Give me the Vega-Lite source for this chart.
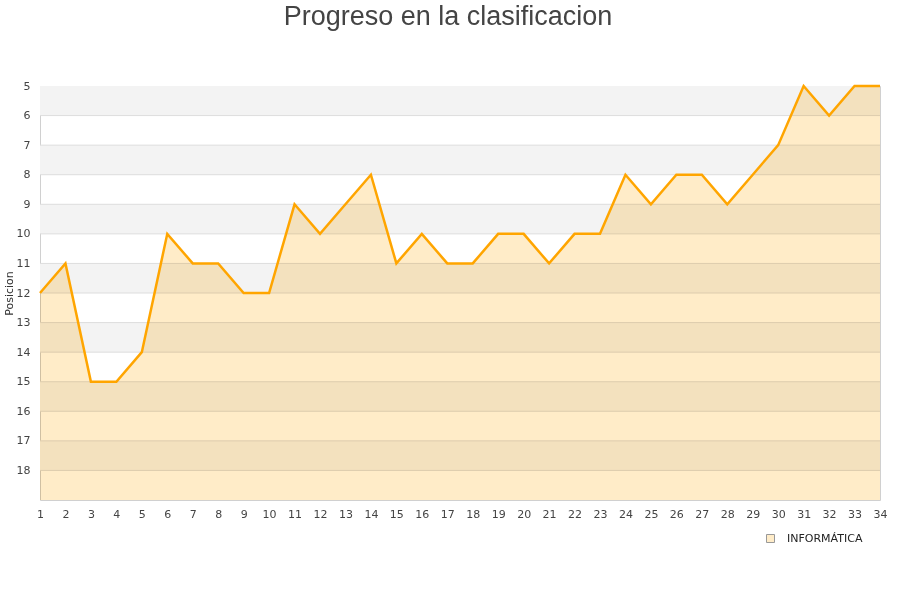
{
  "$schema": "https://vega.github.io/schema/vega-lite/v6.json",
  "autosize": {"type": "none"},
  "width": 840,
  "height": 414,
  "padding": {"left": 40, "top": 86, "right": 20, "bottom": 100},
  "background": "white",
  "title": {
    "text": "Progreso en la clasificacion",
    "font": "Liberation Sans",
    "fontSize": 27,
    "fontWeight": "normal",
    "color": "#444444",
    "anchor": "middle",
    "dx": -12,
    "offset": 49
  },
  "config": {
    "view": {"stroke": "#d0d0d0", "strokeWidth": 1},
    "axis": {
      "labelFont": "DejaVu Sans",
      "labelFontSize": 11,
      "labelColor": "#444444",
      "titleFont": "DejaVu Sans",
      "titleFontSize": 11,
      "titleFontWeight": "normal",
      "titleColor": "#333333",
      "domain": false,
      "grid": false,
      "ticks": false,
      "labelOverlap": false
    }
  },
  "datasets": {
    "bands": [
      {"desde": 5, "hasta": 6},
      {"desde": 7, "hasta": 8},
      {"desde": 9, "hasta": 10},
      {"desde": 11, "hasta": 12},
      {"desde": 13, "hasta": 14},
      {"desde": 15, "hasta": 16},
      {"desde": 17, "hasta": 18}
    ],
    "grid": [
      {"p": 6}, {"p": 7}, {"p": 8}, {"p": 9}, {"p": 10}, {"p": 11}, {"p": 12},
      {"p": 13}, {"p": 14}, {"p": 15}, {"p": 16}, {"p": 17}, {"p": 18}
    ],
    "prog": [
      {"jornada": 1, "posicion": 12, "equipo": "INFORMÁTICA"},
      {"jornada": 2, "posicion": 11, "equipo": "INFORMÁTICA"},
      {"jornada": 3, "posicion": 15, "equipo": "INFORMÁTICA"},
      {"jornada": 4, "posicion": 15, "equipo": "INFORMÁTICA"},
      {"jornada": 5, "posicion": 14, "equipo": "INFORMÁTICA"},
      {"jornada": 6, "posicion": 10, "equipo": "INFORMÁTICA"},
      {"jornada": 7, "posicion": 11, "equipo": "INFORMÁTICA"},
      {"jornada": 8, "posicion": 11, "equipo": "INFORMÁTICA"},
      {"jornada": 9, "posicion": 12, "equipo": "INFORMÁTICA"},
      {"jornada": 10, "posicion": 12, "equipo": "INFORMÁTICA"},
      {"jornada": 11, "posicion": 9, "equipo": "INFORMÁTICA"},
      {"jornada": 12, "posicion": 10, "equipo": "INFORMÁTICA"},
      {"jornada": 13, "posicion": 9, "equipo": "INFORMÁTICA"},
      {"jornada": 14, "posicion": 8, "equipo": "INFORMÁTICA"},
      {"jornada": 15, "posicion": 11, "equipo": "INFORMÁTICA"},
      {"jornada": 16, "posicion": 10, "equipo": "INFORMÁTICA"},
      {"jornada": 17, "posicion": 11, "equipo": "INFORMÁTICA"},
      {"jornada": 18, "posicion": 11, "equipo": "INFORMÁTICA"},
      {"jornada": 19, "posicion": 10, "equipo": "INFORMÁTICA"},
      {"jornada": 20, "posicion": 10, "equipo": "INFORMÁTICA"},
      {"jornada": 21, "posicion": 11, "equipo": "INFORMÁTICA"},
      {"jornada": 22, "posicion": 10, "equipo": "INFORMÁTICA"},
      {"jornada": 23, "posicion": 10, "equipo": "INFORMÁTICA"},
      {"jornada": 24, "posicion": 8, "equipo": "INFORMÁTICA"},
      {"jornada": 25, "posicion": 9, "equipo": "INFORMÁTICA"},
      {"jornada": 26, "posicion": 8, "equipo": "INFORMÁTICA"},
      {"jornada": 27, "posicion": 8, "equipo": "INFORMÁTICA"},
      {"jornada": 28, "posicion": 9, "equipo": "INFORMÁTICA"},
      {"jornada": 29, "posicion": 8, "equipo": "INFORMÁTICA"},
      {"jornada": 30, "posicion": 7, "equipo": "INFORMÁTICA"},
      {"jornada": 31, "posicion": 5, "equipo": "INFORMÁTICA"},
      {"jornada": 32, "posicion": 6, "equipo": "INFORMÁTICA"},
      {"jornada": 33, "posicion": 5, "equipo": "INFORMÁTICA"},
      {"jornada": 34, "posicion": 5, "equipo": "INFORMÁTICA"}
    ]
  },
  "layer": [
    {
      "data": {"name": "bands"},
      "mark": {"type": "rect", "fill": "#f3f3f3"},
      "encoding": {
        "y": {"field": "desde", "type": "quantitative", "scale": {"domain": [5, 19], "reverse": true, "nice": false, "zero": false},
              "axis": {"values": [5,6,7,8,9,10,11,12,13,14,15,16,17,18], "title": "Posicion", "titlePadding": 2, "labelPadding": 10, "labelOverlap": false, "labelBound": false}},
        "y2": {"field": "hasta"}
      }
    },
    {
      "data": {"name": "grid"},
      "mark": {"type": "rule", "stroke": "#dddddd", "strokeWidth": 1},
      "encoding": {
        "y": {"field": "p", "type": "quantitative",
              "axis": {"values": [5,6,7,8,9,10,11,12,13,14,15,16,17,18], "title": "Posicion", "titlePadding": 2, "labelPadding": 10, "labelOverlap": false, "labelBound": false}}
      }
    },
    {
      "data": {"name": "prog"},
      "mark": {"type": "area", "opacity": 1, "blend": "multiply", "interpolate": "linear"},
      "encoding": {
        "x": {"field": "jornada", "type": "quantitative", "scale": {"domain": [1, 34], "nice": false, "zero": false},
              "axis": {"values": [1,2,3,4,5,6,7,8,9,10,11,12,13,14,15,16,17,18,19,20,21,22,23,24,25,26,27,28,29,30,31,32,33,34], "title": null, "labelPadding": 8, "labelFlush": false, "labelOverlap": false, "labelBound": false}},
        "y": {"field": "posicion", "type": "quantitative",
              "axis": {"values": [5,6,7,8,9,10,11,12,13,14,15,16,17,18], "title": "Posicion", "titlePadding": 2, "labelPadding": 10, "labelOverlap": false, "labelBound": false}},
        "y2": {"datum": 19},
        "color": {
          "field": "equipo", "type": "nominal",
          "scale": {"range": ["#ffecc8"]},
          "legend": {
            "title": null,
            "orient": "none",
            "legendX": 725,
            "legendY": 447,
            "symbolType": "square",
            "symbolSize": 64,
            "symbolStrokeColor": "#999999",
            "symbolStrokeWidth": 1,
            "symbolOpacity": 1,
            "labelOffset": 11,
            "labelFont": "DejaVu Sans",
            "labelFontSize": 11,
            "labelColor": "#222222"
          }
        }
      }
    },
    {
      "data": {"name": "prog"},
      "mark": {"type": "line", "stroke": "#ffa500", "strokeWidth": 2.5},
      "encoding": {
        "x": {"field": "jornada", "type": "quantitative",
              "axis": {"values": [1,2,3,4,5,6,7,8,9,10,11,12,13,14,15,16,17,18,19,20,21,22,23,24,25,26,27,28,29,30,31,32,33,34], "title": null, "labelPadding": 8, "labelFlush": false, "labelOverlap": false, "labelBound": false}},
        "y": {"field": "posicion", "type": "quantitative",
              "axis": {"values": [5,6,7,8,9,10,11,12,13,14,15,16,17,18], "title": "Posicion", "titlePadding": 2, "labelPadding": 10, "labelOverlap": false, "labelBound": false}}
      }
    }
  ]
}
